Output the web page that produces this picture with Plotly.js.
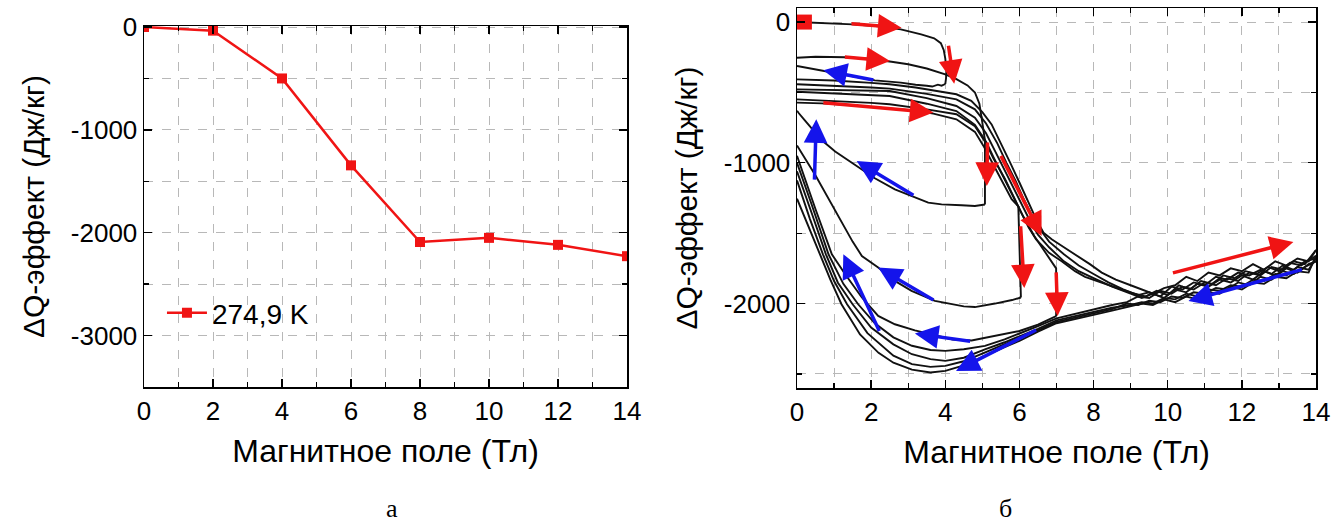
<!DOCTYPE html>
<html>
<head>
<meta charset="utf-8">
<script src="https://cdn.plot.ly/plotly-3.0.1.min.js"></script>
<style>html,body{margin:0;padding:0;background:#fff;}#chart{width:1333px;height:527px;}</style>
</head>
<body>
<div id="chart"></div>
<script>
// ---------- Panel (а): single temperature ----------
const fieldA = [0, 2, 4, 6, 8, 10, 12, 14];
const dQA = [0, -35, -500, -1345, -2090, -2050, -2118, -2228];
const legendLabelA = '274,9 K';

// ---------- Panel (б): field sweeps (B in T, dQ in J/kg) ----------
const startB = [0.2];
const startQ = [0];

const sw1upB = [0, 0.4, 1.0, 1.5, 2.2, 2.8, 3.35, 3.7, 3.88, 3.96, 4.0, 4.03, 4.02, 4.0];
const sw1upQ = [0, -4, -10, -16, -30, -52, -87, -115, -150, -200, -260, -340, -400, -440];
const sw1dnB = [4.0, 3.9, 3.8, 3.65, 3.5, 3.2, 2.8, 2.1, 1.5, 1.0, 0.5, 0.15, 0];
const sw1dnQ = [-440, -452, -445, -458, -452, -445, -430, -414, -385, -360, -335, -318, -312];

const sw2upB = [0, 0.5, 1.3, 2.0, 2.55, 3.0, 3.5, 4.0, 4.3, 4.6, 4.8, 4.92, 4.98, 5.03, 5.07, 5.07];
const sw2upQ = [-253, -246, -250, -262, -282, -300, -330, -372, -405, -450, -500, -580, -680, -780, -840, -1296];
const sw2dnB = [5.07, 4.8, 4.44, 3.9, 3.54, 3.18, 2.64, 2.1, 1.56, 1.03, 0.67, 0.4, 0.2, 0.05, 0];
const sw2dnQ = [-1296, -1307, -1302, -1295, -1283, -1247, -1188, -1110, -1015, -920, -840, -760, -695, -648, -630];

const sw3upB = [0, 0.67, 1.5, 2.5, 3.2, 3.68, 4.3, 4.8, 5.03, 5.29, 5.55, 5.79, 5.97, 6.04];
const sw3upQ = [-572, -578, -592, -612, -630, -650, -691, -780, -880, -1010, -1140, -1259, -1310, -1957];
const sw3dnB = [6.04, 5.8, 5.34, 4.8, 4.5, 4.08, 3.72, 3.09, 2.64, 2.19, 1.75, 1.5, 1.0, 0.5, 0];
const sw3dnQ = [-1957, -1975, -2000, -2025, -2020, -2000, -1981, -1910, -1839, -1744, -1662, -1560, -1320, -1090, -877];

const sw4upB = [0, 1, 2, 2.5, 3.5, 4.3, 4.8, 5.1, 5.3, 5.6, 5.85, 6.1, 6.4, 6.7, 6.9, 6.99, 6.99];
const sw4upQ = [-549, -560, -574, -584, -620, -655, -740, -860, -970, -1110, -1250, -1380, -1520, -1640, -1720, -1750, -2090];
const sw4dnB = [6.99, 6.5, 6.0, 5.34, 4.71, 4.2, 3.54, 3.18, 2.64, 2.19, 1.75, 1.3, 0.94, 0.5, 0];
const sw4dnQ = [-2090, -2150, -2195, -2230, -2262, -2255, -2213, -2190, -2147, -2088, -1957, -1792, -1650, -1330, -950];

const full1upB = [0, 1, 2, 2.5, 3.2, 3.8, 4.3, 4.7, 5.0, 5.25, 5.5, 5.75, 6.0, 6.2, 6.45, 6.65, 6.87, 7.2, 7.58, 7.9, 8.22, 8.6, 9.0, 9.3, 9.6, 9.9, 10.2, 10.5, 10.8, 11.1, 11.4, 11.7, 12.0, 12.3, 12.6, 12.9, 13.2, 13.5, 13.8, 14.0];
const full1upQ = [-407, -415, -432, -442, -465, -490, -513, -560, -640, -727, -860, -999, -1140, -1259, -1400, -1496, -1543, -1600, -1662, -1720, -1780, -1830, -1870, -1898, -1930, -1890, -1870, -1810, -1840, -1780, -1800, -1750, -1770, -1720, -1760, -1700, -1730, -1680, -1700, -1620];
const full2upB = [0, 1, 2, 2.5, 3.5, 4.3, 4.8, 5.1, 5.4, 5.65, 5.9, 6.1, 6.35, 6.55, 6.8, 7.2, 7.6, 8.0, 8.4, 8.8, 9.2, 9.5, 9.8, 10.1, 10.4, 10.7, 11.0, 11.3, 11.6, 11.9, 12.2, 12.5, 12.8, 13.1, 13.4, 13.7, 14.0];
const full2upQ = [-442, -452, -465, -473, -510, -549, -620, -720, -860, -1000, -1130, -1250, -1380, -1470, -1560, -1650, -1730, -1790, -1850, -1900, -1940, -1920, -1950, -1880, -1900, -1850, -1870, -1810, -1830, -1780, -1800, -1760, -1790, -1730, -1760, -1700, -1680];
const full3upB = [0, 1, 2, 2.5, 3.5, 4.3, 4.8, 5.1, 5.35, 5.6, 5.85, 6.05, 6.3, 6.5, 6.8, 7.2, 7.6, 8.0, 8.5, 9.0, 9.3, 9.6, 9.9, 10.2, 10.5, 10.8, 11.1, 11.4, 11.7, 12.0, 12.3, 12.6, 12.9, 13.2, 13.5, 13.8, 14.0];
const full3upQ = [-478, -482, -488, -490, -540, -596, -680, -790, -920, -1050, -1180, -1290, -1420, -1510, -1600, -1700, -1770, -1820, -1880, -1930, -1960, -1930, -1960, -1900, -1920, -1860, -1880, -1830, -1850, -1800, -1830, -1770, -1800, -1750, -1780, -1720, -1700];
const full4upB = [0, 1, 2, 2.5, 3.5, 4.3, 4.8, 5.1, 5.3, 5.55, 5.8, 6.0, 6.25, 6.45, 6.8, 7.14, 7.5, 7.77, 8.2, 8.49, 9.03, 9.4, 9.7, 10.0, 10.3, 10.6, 10.9, 11.2, 11.5, 11.8, 12.1, 12.4, 12.7, 13.0, 13.3, 13.6, 13.9, 14.0];
const full4upQ = [-495, -505, -518, -525, -580, -632, -730, -850, -960, -1090, -1230, -1330, -1460, -1545, -1640, -1700, -1770, -1810, -1850, -1880, -1925, -1950, -1910, -1940, -1870, -1900, -1840, -1860, -1800, -1820, -1770, -1790, -1740, -1770, -1710, -1730, -1680, -1660];

const full1dnB = [14.0, 13.7, 13.4, 13.1, 12.8, 12.5, 12.2, 11.9, 11.6, 11.3, 11.0, 10.7, 10.4, 10.1, 9.8, 9.5, 9.2, 8.9, 8.5, 8.0, 7.5, 7.0, 6.5, 6.0, 5.6, 5.07, 4.5, 4.0, 3.6, 3.1, 2.6, 2.1, 1.65, 1.25, 0.85, 0.4, 0];
const full1dnQ = [-1620, -1720, -1700, -1760, -1740, -1800, -1780, -1840, -1820, -1870, -1850, -1900, -1880, -1930, -1910, -1960, -1950, -1990, -2010, -2040, -2070, -2105, -2160, -2215, -2255, -2301, -2325, -2336, -2330, -2300, -2240, -2140, -2005, -1860, -1650, -1300, -1000];
const full2dnB = [14.0, 13.8, 13.5, 13.2, 12.9, 12.6, 12.3, 12.0, 11.7, 11.4, 11.1, 10.8, 10.5, 10.2, 9.9, 9.6, 9.3, 9.0, 8.5, 8.0, 7.5, 7.0, 6.5, 6.0, 5.6, 5.07, 4.5, 4.0, 3.6, 3.1, 2.6, 2.0, 1.5, 1.1, 0.78, 0.4, 0];
const full2dnQ = [-1680, -1760, -1740, -1800, -1790, -1840, -1830, -1880, -1870, -1910, -1900, -1950, -1930, -1970, -1960, -2000, -1990, -2010, -2030, -2060, -2090, -2120, -2180, -2235, -2275, -2325, -2385, -2407, -2395, -2360, -2290, -2170, -2005, -1850, -1650, -1360, -1060];
const full3dnB = [14.0, 13.7, 13.4, 13.1, 12.8, 12.5, 12.2, 11.9, 11.6, 11.3, 11.0, 10.7, 10.4, 10.1, 9.8, 9.5, 9.2, 8.9, 8.5, 8.0, 7.5, 7.0, 6.5, 6.0, 5.6, 5.07, 4.5, 4.0, 3.6, 3.1, 2.6, 1.9, 1.35, 1.0, 0.7, 0.35, 0];
const full3dnQ = [-1700, -1740, -1790, -1770, -1830, -1810, -1870, -1850, -1900, -1890, -1930, -1920, -1960, -1950, -1990, -1980, -2010, -2000, -2040, -2070, -2100, -2130, -2190, -2245, -2290, -2349, -2410, -2443, -2450, -2430, -2370, -2210, -2005, -1840, -1650, -1400, -1125];
const full4dnB = [14.0, 13.8, 13.5, 13.2, 12.9, 12.6, 12.3, 12.0, 11.7, 11.4, 11.1, 10.8, 10.5, 10.2, 9.9, 9.6, 9.3, 9.0, 8.5, 8.0, 7.5, 7.0, 6.5, 6.0, 5.6, 5.07, 4.5, 4.0, 3.6, 3.1, 2.6, 2.2, 1.7, 1.2, 0.9, 0.62, 0.3, 0];
const full4dnQ = [-1660, -1780, -1770, -1820, -1810, -1860, -1850, -1900, -1880, -1930, -1920, -1970, -1950, -1990, -1970, -2010, -2000, -2020, -2050, -2080, -2110, -2140, -2200, -2265, -2310, -2375, -2440, -2478, -2490, -2470, -2420, -2350, -2220, -2005, -1830, -1650, -1450, -1255];

// Direction arrows (tail B, tail Q, head B, head Q)
const redArrows = [
  [1.43, -11, 2.82, -40],
  [1.25, -248, 2.51, -277],
  [4.08, -158, 4.24, -438],
  [0.67, -572, 3.68, -643],
  [5.14, -845, 5.12, -1165],
  [5.48, -940, 6.60, -1520],
  [6.03, -1440, 6.13, -1890],
  [6.99, -1768, 7.03, -2088],
  [10.1, -1785, 13.39, -1562]
];
const blueArrows = [
  [2.10, -414, 0.71, -343],
  [0.47, -1130, 0.52, -690],
  [3.18, -1236, 1.61, -987],
  [3.72, -1981, 2.19, -1744],
  [2.24, -2206, 1.25, -1650],
  [4.71, -2270, 3.18, -2213],
  [6.49, -2182, 4.29, -2479],
  [13.66, -1756, 10.56, -1981]
];

const xTicks = [0, 2, 4, 6, 8, 10, 12, 14];
const yTicksA = [0, -1000, -2000, -3000];
const yTextA = ['0', '-1000', '-2000', '-3000'];
const yTicksB = [0, -1000, -2000];
const yTextB = ['0', '-1000', '-2000'];

const xTitle = 'Магнитное поле (Тл)';
const yTitle = 'ΔQ-эффект (Дж/кг)';
const panelLabels = ['а', 'б'];

// ---------- build ----------
const FONT = 'Liberation Sans, Arial, sans-serif';
const RED = 'rgb(240,20,20)';
const BLUE = 'rgb(20,20,235)';
const BLACK = '#111';

const traces = [];
traces.push({
  x: fieldA, y: dQA, xaxis: 'x', yaxis: 'y', mode: 'lines+markers',
  name: legendLabelA, line: {color: RED, width: 2.5},
  marker: {symbol: 'square', size: 10, color: RED}, showlegend: true
});

const sweeps = [
  [sw1upB, sw1upQ], [sw1dnB, sw1dnQ], [sw2upB, sw2upQ], [sw2dnB, sw2dnQ],
  [sw3upB, sw3upQ], [sw3dnB, sw3dnQ], [sw4upB, sw4upQ], [sw4dnB, sw4dnQ],
  [full1upB, full1upQ], [full1dnB, full1dnQ], [full2upB, full2upQ], [full2dnB, full2dnQ],
  [full3upB, full3upQ], [full3dnB, full3dnQ], [full4upB, full4upQ], [full4dnB, full4dnQ]
];
sweeps.forEach(s => traces.push({
  x: s[0], y: s[1], xaxis: 'x2', yaxis: 'y2', mode: 'lines',
  line: {color: BLACK, width: 1.9}, showlegend: false, hoverinfo: 'skip'
}));
traces.push({
  x: startB, y: startQ, xaxis: 'x2', yaxis: 'y2', mode: 'markers',
  marker: {symbol: 'square', size: 15, color: RED}, showlegend: false, cliponaxis: false
});

const annotations = [];
function addArrows(list, color) {
  list.forEach(a => annotations.push({
    xref: 'x2', yref: 'y2', axref: 'x2', ayref: 'y2',
    ax: a[0], ay: a[1], x: a[2], y: a[3], text: '',
    showarrow: true, arrowhead: 2, arrowsize: 1.35, arrowwidth: 3.5, arrowcolor: color, standoff: 0
  }));
}
addArrows(redArrows, RED);
addArrows(blueArrows, BLUE);
const labelFont = {family: 'Liberation Serif, Times New Roman, serif', size: 26, color: '#000'};
annotations.push({xref: 'paper', yref: 'paper', x: 385 / 1333, y: 19 / 527, yanchor: 'middle', borderpad: 0, text: panelLabels[0], showarrow: false, font: labelFont});
annotations.push({xref: 'paper', yref: 'paper', x: 1013 / 1333, y: 19 / 527, yanchor: 'middle', borderpad: 0, text: panelLabels[1], showarrow: false, font: labelFont});

const gridCommon = {gridcolor: '#b8b8b8', gridwidth: 1, griddash: 'dash'};
function xAxis(domain, anchor) {
  return Object.assign({
    domain: domain, anchor: anchor, range: [0, 14], tickmode: 'array', tickvals: xTicks,
    ticks: 'inside', ticklen: 8, tickwidth: 1.3, tickcolor: '#000',
    showline: true, linecolor: '#000', linewidth: 1.5, mirror: 'ticks', zeroline: false,
    showgrid: true, tickfont: {family: FONT, size: 26, color: '#000'},
    minor: Object.assign({dtick: 1, tick0: 0, ticks: 'inside', ticklen: 5, tickcolor: '#000', showgrid: true}, gridCommon),
    title: {text: xTitle, font: {family: FONT, size: 32, color: '#000'}, standoff: 15},
    automargin: false, fixedrange: true
  }, gridCommon);
}
function yAxis(domain, anchor, range, tv, tt) {
  return Object.assign({
    domain: domain, anchor: anchor, range: range, tickmode: 'array', tickvals: tv, ticktext: tt,
    ticks: 'inside', ticklen: 8, tickwidth: 1.3, tickcolor: '#000',
    showline: true, linecolor: '#000', linewidth: 1.5, mirror: 'ticks', zeroline: false,
    showgrid: true, tickfont: {family: FONT, size: 26, color: '#000'},
    minor: Object.assign({dtick: 500, tick0: 0, ticks: 'inside', ticklen: 5, tickcolor: '#000', showgrid: true}, gridCommon),
    title: {text: yTitle, font: {family: FONT, size: 30, color: '#000'}, standoff: 17},
    automargin: false, fixedrange: true
  }, gridCommon);
}

const layout = {
  width: 1333, height: 527, margin: {l: 0, r: 0, t: 0, b: 0},
  paper_bgcolor: '#fff', plot_bgcolor: '#fff',
  font: {family: FONT, color: '#000'},
  xaxis: xAxis([144 / 1333, 627 / 1333], 'y'),
  yaxis: yAxis([140 / 527, 501 / 527], 'x', [-3500, 10], yTicksA, yTextA),
  xaxis2: xAxis([797 / 1333, 1316 / 1333], 'y2'),
  yaxis2: yAxis([139 / 527, 519 / 527], 'x2', [-2600, 100], yTicksB, yTextB),
  showlegend: true,
  legend: {x: 0.1215, y: 0.406, xanchor: 'left', yanchor: 'middle', bgcolor: 'rgba(0,0,0,0)',
    font: {family: FONT, size: 28, color: '#000'}, itemwidth: 40},
  annotations: annotations
};

Plotly.newPlot('chart', traces, layout, {staticPlot: true, displayModeBar: false});
</script>
</body>
</html>
